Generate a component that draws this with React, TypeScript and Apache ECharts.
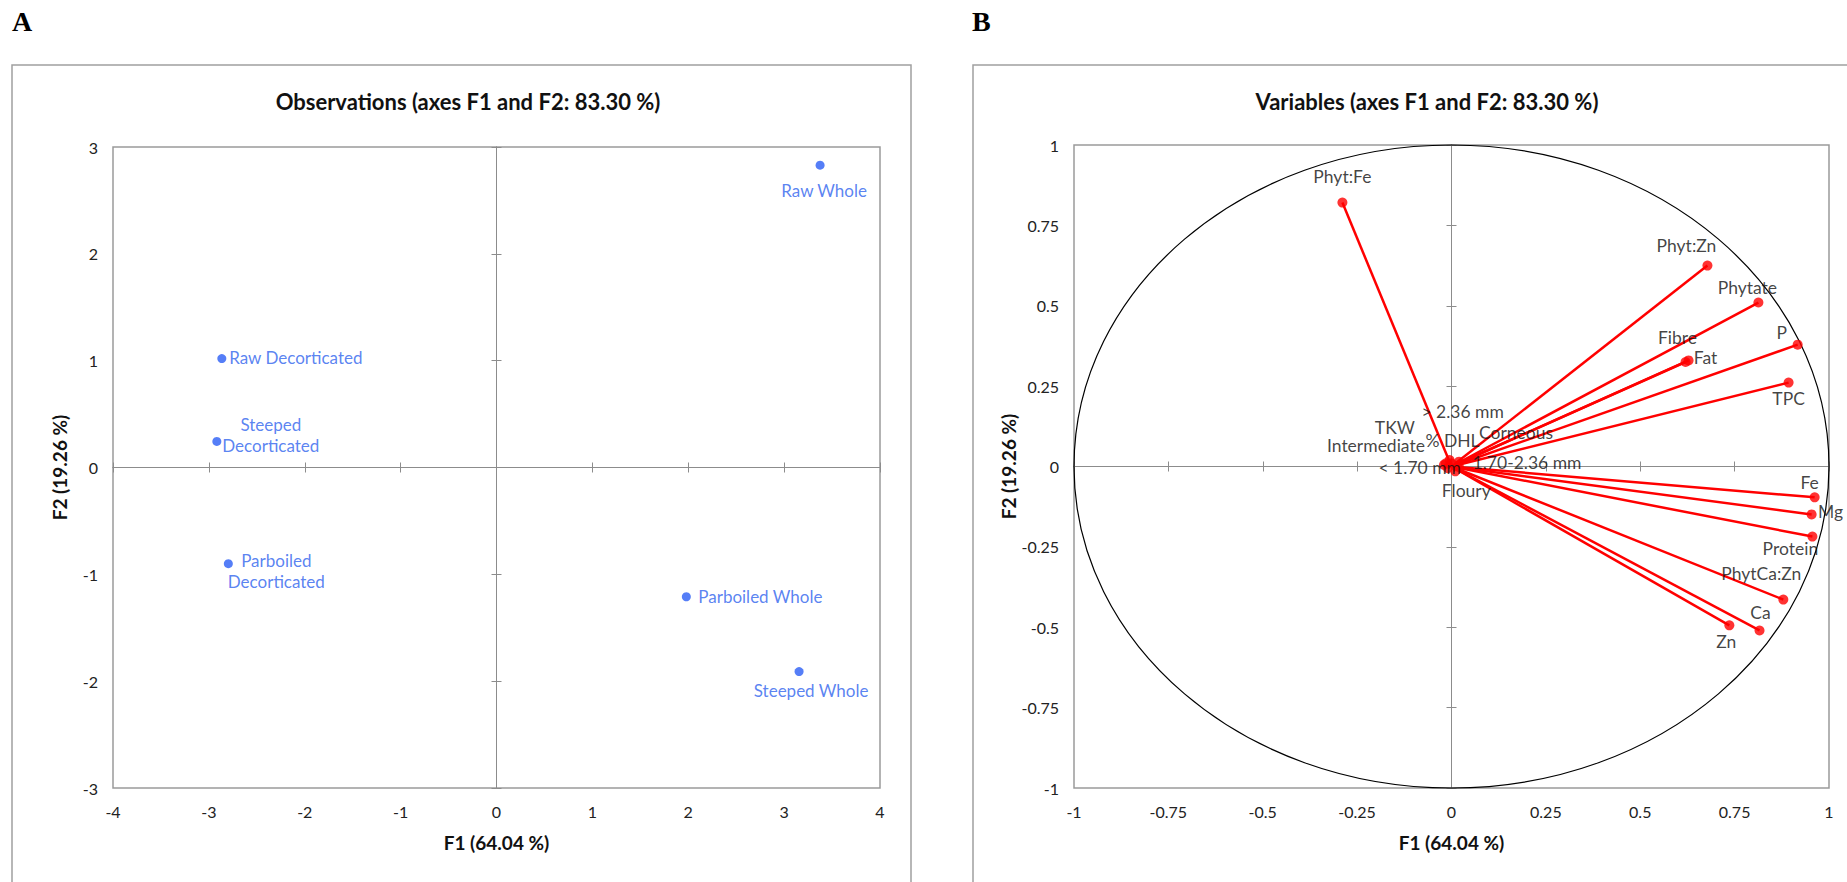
import React, { useEffect, useRef } from "react";
import * as echarts from "echarts";

// ---------- Data ----------
const obsLabels = [
  "Raw Whole",
  "Raw Decorticated",
  "Steeped\nDecorticated",
  "Parboiled\nDecorticated",
  "Parboiled Whole",
  "Steeped Whole",
];
const obsF1 = [3.375, -2.865, -2.917, -2.797, 1.98, 3.156];
const obsF2 = [2.83, 1.02, 0.244, -0.9, -1.21, -1.91];

const varNames = [
  "Phyt:Fe", "Phyt:Zn", "Phytate", "P", "Fibre", "Fat", "TPC",
  "Fe", "Mg", "Protein", "PhytCa:Zn", "Ca", "Zn",
  "TKW", "> 2.36 mm", "Corneous", "% DHL", "Intermediate",
  "< 1.70 mm", "1.70-2.36 mm", "Floury",
];
const varF1 = [
  -0.289, 0.678, 0.813, 0.917, 0.62, 0.628, 0.893,
  0.962, 0.954, 0.956, 0.879, 0.816, 0.736,
  -0.015, -0.005, 0.02, 0.0, -0.02, -0.01, 0.02, 0.01,
];
const varF2 = [
  0.821, 0.625, 0.51, 0.379, 0.325, 0.33, 0.261,
  -0.096, -0.149, -0.218, -0.414, -0.51, -0.494,
  0.01, 0.02, 0.015, 0.01, 0.005, -0.005, -0.002, -0.015,
];

const obsTicks = { min: -4, max: 4, interval: 1 };
const obsTicksY = { min: -3, max: 3, interval: 1 };
const varTicks = { min: -1, max: 1, interval: 0.25 };

const titleA = "Observations (axes F1 and F2: 83.30 %)";
const titleB = "Variables (axes F1 and F2: 83.30 %)";
const xName = "F1 (64.04 %)";
const yName = "F2 (19.26 %)";

// ---------- Label placement (styling only) ----------
const obsLabelOffset = [[4, 25], [74, -1], [54, -6], [48, 7], [74, 0], [12, 19]];
const varLabelOffset = [
  [0, -26], [-21, -20], [-11, -15], [-16, -12], [-8, -25], [17, -3], [0, 16],
  [-5, -15], [19, -3], [-22, 12], [-22, -26], [1, -18], [-3, 16],
  [-51, -36], [13, -49], [57, -29], [1, -23], [-68, -19], [-28, -1], [68, -5], [11, 19],
];

const FONT = "Lato, 'Open Sans', sans-serif";
const GRAY_BORDER = "#a0a0a0";
const GRAY_AXIS = "#8c8c8c";

function axesFor(dim: "x" | "y", gridIndex: number, t: { min: number; max: number; interval: number }) {
  const base = { type: "value", gridIndex, min: t.min, max: t.max, interval: t.interval, splitLine: { show: false } };
  const labelAxis = {
    ...base,
    position: dim === "x" ? "bottom" : "left",
    name: dim === "x" ? xName : yName,
    nameLocation: "middle",
    nameGap: dim === "x" ? 45 : 44,
    nameTextStyle: { fontFamily: FONT, fontWeight: "bold", fontSize: 19, color: "#111" },
    axisLine: { show: false, onZero: false },
    axisTick: { show: false },
    axisLabel: { fontFamily: FONT, fontSize: 16, color: "#222", margin: 15 },
  };
  const mk = (inside: boolean) => ({
    ...base,
    position: dim === "x" ? "bottom" : "left",
    axisLine: { show: true, onZero: true, lineStyle: { color: GRAY_AXIS, width: 1 } },
    axisTick: { show: true, inside, length: 5, lineStyle: { color: GRAY_AXIS, width: 1 } },
    axisLabel: { show: false },
  });
  return [labelAxis, mk(true), mk(false)];
}

export default function App() {
  const ref = useRef<HTMLDivElement>(null);
  useEffect(() => {
    if (!ref.current) return;
    const chart = echarts.init(ref.current, null, { renderer: "svg" });

    const obsData = obsF1.map((x, i) => ({
      value: [x, obsF2[i]],
      label: { formatter: obsLabels[i], offset: obsLabelOffset[i] },
    }));
    const varData = varF1.map((x, i) => ({
      value: [x, varF2[i]],
      name: varNames[i],
      label: { formatter: varNames[i], offset: varLabelOffset[i] },
    }));
    const vecData = varF1.map((x, i) => ({ coords: [[0, 0], [x, varF2[i]]] }));

    const titleStyle = { fontFamily: FONT, fontWeight: "bold", fontSize: 22, color: "#111" };
    const option: any = {
      animation: false,
      backgroundColor: "#fff",
      title: [
        { text: titleA, left: 463, top: 85, textAlign: "center", textStyle: titleStyle },
        { text: titleB, left: 1422, top: 85, textAlign: "center", textStyle: titleStyle },
      ],
      graphic: [
        { type: "rect", shape: { x: 12, y: 65, width: 899, height: 840 }, style: { fill: "none", stroke: GRAY_BORDER, lineWidth: 1.5 }, silent: true },
        { type: "rect", shape: { x: 973, y: 65, width: 900, height: 840 }, style: { fill: "none", stroke: GRAY_BORDER, lineWidth: 1.5 }, silent: true },
        { type: "text", left: 12, top: 7, style: { text: "A", font: "bold 28px 'Liberation Serif', 'Times New Roman', serif", fill: "#000" } },
        { type: "text", left: 972, top: 7, style: { text: "B", font: "bold 28px 'Liberation Serif', 'Times New Roman', serif", fill: "#000" } },
      ],
      grid: [
        { left: 113, top: 147, width: 767, height: 641, show: true, borderColor: "#9a9a9a", borderWidth: 1.5, containLabel: false },
        { left: 1074, top: 145, width: 755, height: 643, show: true, borderColor: "#9a9a9a", borderWidth: 1.5, containLabel: false },
      ],
      xAxis: [...axesFor("x", 0, obsTicks), ...axesFor("x", 1, varTicks)],
      yAxis: [...axesFor("y", 0, obsTicksY), ...axesFor("y", 1, varTicks)],
      series: [
        {
          type: "scatter",
          xAxisIndex: 0,
          yAxisIndex: 0,
          symbolSize: 9,
          itemStyle: { color: "#2a5ef5" },
          label: { show: true, position: "inside", color: "#2f63ee", fontFamily: FONT, fontSize: 17, lineHeight: 21, align: "center", verticalAlign: "middle" },
          data: obsData,
          z: 5,
        },
        {
          type: "custom",
          xAxisIndex: 3,
          yAxisIndex: 3,
          clip: false,
          silent: true,
          data: [[0, 0]],
          renderItem: (params: any, api: any) => {
            const c = api.coord([api.value(0), api.value(1)]);
            const s = api.size([1, 1]);
            return {
              type: "ellipse",
              shape: { cx: c[0], cy: c[1], rx: s[0], ry: s[1] },
              style: { fill: "none", stroke: "#000", lineWidth: 1.2 },
            };
          },
          z: 2,
        },
        {
          type: "lines",
          coordinateSystem: "cartesian2d",
          xAxisIndex: 3,
          yAxisIndex: 3,
          lineStyle: { color: "#ff0000", width: 2.5, opacity: 1 },
          data: vecData,
          z: 3,
        },
        {
          type: "scatter",
          xAxisIndex: 3,
          yAxisIndex: 3,
          symbolSize: 10,
          itemStyle: { color: "#ff0000" },
          label: { show: true, position: "inside", color: "#111", fontFamily: FONT, fontSize: 17.5, align: "center", verticalAlign: "middle" },
          data: varData,
          z: 4,
        },
      ],
    };
    chart.setOption(option);
    return () => chart.dispose();
  }, []);
  return (
    <div
      ref={ref}
      style={{ position: "fixed", left: 0, top: 0, width: 1847, height: 882, background: "#fff" }}
    />
  );
}
